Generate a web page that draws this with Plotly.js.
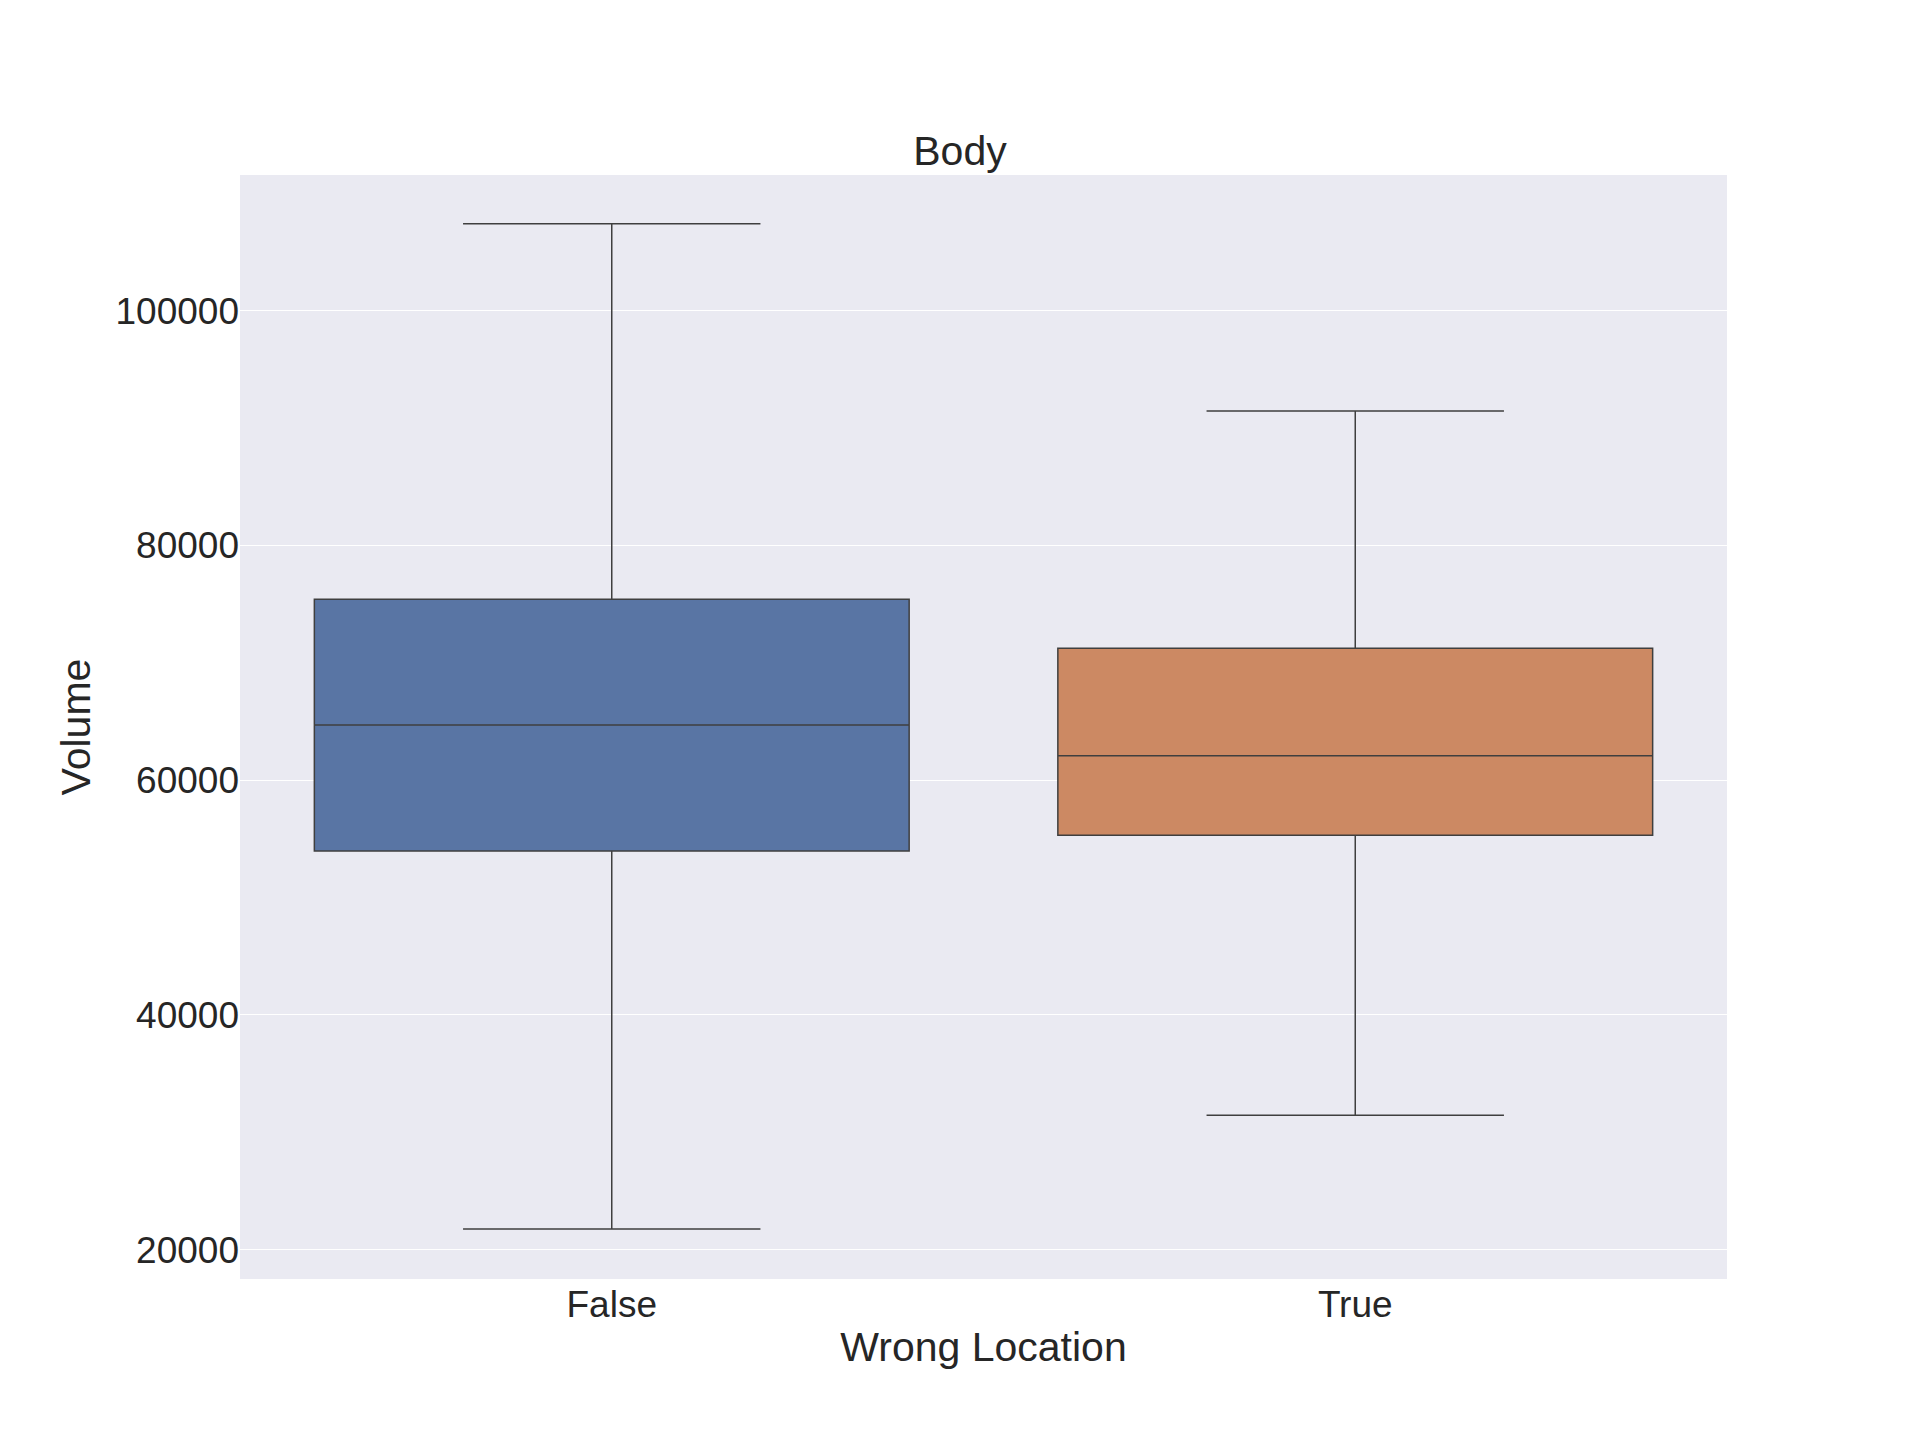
<!DOCTYPE html>
<html>
<head>
<meta charset="utf-8">
<script src="https://cdn.plot.ly/plotly-3.0.1.min.js"></script>
<style>body{margin:0;background:#fff}</style>
</head>
<body>
<div id="chart" style="width:1920px;height:1439px"></div>
<script>
// values
const groups = ["False", "True"];
const colors = ["#5975a4", "#cc8963"];
const lowerFence = [21770, 31460];
const q1 = [53960, 55310];
const median = [64690, 62080];
const q3 = [75420, 71250];
const upperFence = [107400, 91460];

const data = groups.map((g, i) => ({
  type: "box",
  x: [g],
  lowerfence: [lowerFence[i]],
  q1: [q1[i]],
  median: [median[i]],
  q3: [q3[i]],
  upperfence: [upperFence[i]],
  fillcolor: colors[i],
  line: { color: "#3f3f3f", width: 1.5 },
  width: 0.8,
  whiskerwidth: 0.5,
  showlegend: false,
  hoverinfo: "skip"
}));

const layout = {
  width: 1920,
  height: 1439,
  paper_bgcolor: "#ffffff",
  plot_bgcolor: "#eaeaf2",
  font: { family: "Arial, Liberation Sans, sans-serif", color: "#262626", size: 29 },
  margin: { l: 240, r: 193, t: 175, b: 160 },
  title: { text: "Body", x: 0.5, xanchor: "center", y: 1 - 151 / 1439, yanchor: "middle", font: { size: 41 } },
  xaxis: {
    title: { text: "Wrong Location", font: { size: 41 }, standoff: 8 },
    showgrid: false, zeroline: false, ticks: "", tickfont: { size: 37 },
    range: [-0.5, 1.5]
  },
  yaxis: {
    title: { text: "Volume", font: { size: 41 }, standoff: 12 },
    range: [17500, 111560],
    tickvals: [20000, 40000, 60000, 80000, 100000],
    ticktext: ["20000", "40000", "60000", "80000", "100000"],
    gridcolor: "#ffffff", gridwidth: 1.3, zeroline: false, ticks: "", tickfont: { size: 37 }
  }
};

Plotly.newPlot("chart", data, layout, { displayModeBar: false });
</script>
</body>
</html>
